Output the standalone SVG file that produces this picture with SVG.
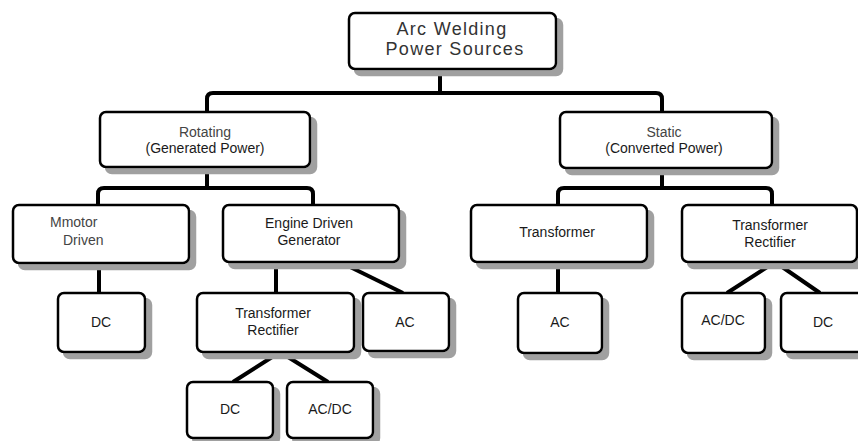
<svg xmlns="http://www.w3.org/2000/svg" width="858" height="441" viewBox="0 0 858 441">
  <defs>
    <style>
      .box { fill: #ffffff; stroke: #000; stroke-width: 2.5; }
      .link { fill: none; stroke: #000; stroke-width: 4; }
      text { font-family: "Liberation Sans", Arial, sans-serif; text-anchor: middle; fill: #1a1a1a; }
      .t14 { font-size: 14px; }
      .light { fill: #444; }
      .title { font-size: 18px; letter-spacing: 1.3px; fill: #333; }
    </style>
    <filter id="drop" x="-10%" y="-10%" width="130%" height="140%">
      <feOffset in="SourceAlpha" dx="6" dy="6" result="off"/>
      <feFlood flood-color="#a0a0a0"/>
      <feComposite in2="off" operator="in" result="shadow"/>
      <feMerge>
        <feMergeNode in="shadow"/>
        <feMergeNode in="SourceGraphic"/>
      </feMerge>
    </filter>
  </defs>

  <!-- connectors -->
  <g id="connectors">
    <path class="link" d="M440 69 V93"/>
    <path class="link" d="M207 112 V99 Q207 93 213 93 H656 Q662 93 662 99 V112"/>
    <path class="link" d="M207 167 V188"/>
    <path class="link" d="M98 205 V194 Q98 188 104 188 H307 Q313 188 313 194 V205"/>
    <path class="link" d="M662 168 V188"/>
    <path class="link" d="M558 205 V194 Q558 188 564 188 H766 Q772 188 772 194 V205"/>
    <path class="link" d="M99 263 V293"/>
    <path class="link" d="M276 262 V293"/>
    <path class="link" d="M340 262 L403 293"/>
    <path class="link" d="M280 352 L233 382 M280 352 L328 382"/>
    <path class="link" d="M558 262 V293"/>
    <path class="link" d="M775 262 L727 293 M775 262 L820 293"/>
  </g>

  <!-- every box carries a gray drop shadow offset 6px down-right -->
  <g id="root">
    <rect class="box" x="349" y="13" width="207" height="56" rx="6" filter="url(#drop)"/>
    <text class="title" x="452" y="35">Arc Welding</text>
    <text class="title" x="455" y="55">Power Sources</text>
  </g>

  <g id="rotating">
    <rect class="box" x="100" y="112" width="210" height="55" rx="6" filter="url(#drop)"/>
    <text class="t14 light" x="205" y="137">Rotating</text>
    <text class="t14" x="205" y="153">(Generated Power)</text>
  </g>

  <g id="static">
    <rect class="box" x="560" y="112" width="212" height="56" rx="6" filter="url(#drop)"/>
    <text class="t14 light" x="664" y="137">Static</text>
    <text class="t14" x="664" y="153">(Converted Power)</text>
  </g>

  <g id="motor-driven">
    <rect class="box" x="13" y="205" width="176" height="58" rx="6" filter="url(#drop)"/>
    <text class="t14 light" x="50" y="227" style="text-anchor:start">Mmotor</text>
    <text class="t14 light" x="63" y="245" style="text-anchor:start">Driven</text>
  </g>

  <g id="engine-driven">
    <rect class="box" x="223" y="205" width="176" height="57" rx="6" filter="url(#drop)"/>
    <text class="t14" x="309" y="228">Engine Driven</text>
    <text class="t14" x="309" y="245">Generator</text>
  </g>

  <g id="transformer">
    <rect class="box" x="471" y="205" width="176" height="57" rx="6" filter="url(#drop)"/>
    <text class="t14" x="557" y="237">Transformer</text>
  </g>

  <g id="transformer-rectifier-static">
    <rect class="box" x="682" y="205" width="175" height="57" rx="6" filter="url(#drop)"/>
    <text class="t14" x="770" y="230">Transformer</text>
    <text class="t14" x="770" y="247">Rectifier</text>
  </g>

  <g id="dc-motor">
    <rect class="box" x="58" y="293" width="87" height="59" rx="6" filter="url(#drop)"/>
    <text class="t14" x="101" y="327">DC</text>
  </g>

  <g id="transformer-rectifier-engine">
    <rect class="box" x="197" y="293" width="157" height="59" rx="6" filter="url(#drop)"/>
    <text class="t14" x="273" y="318">Transformer</text>
    <text class="t14" x="273" y="335">Rectifier</text>
  </g>

  <g id="ac-engine">
    <rect class="box" x="363" y="293" width="86" height="58" rx="6" filter="url(#drop)"/>
    <text class="t14" x="405" y="327">AC</text>
  </g>

  <g id="ac-transformer">
    <rect class="box" x="518" y="293" width="84" height="60" rx="6" filter="url(#drop)"/>
    <text class="t14" x="560" y="327">AC</text>
  </g>

  <g id="acdc-static">
    <rect class="box" x="682" y="293" width="83" height="60" rx="6" filter="url(#drop)"/>
    <text class="t14" x="723" y="325">AC/DC</text>
  </g>

  <g id="dc-static">
    <rect class="box" x="781" y="293" width="90" height="59" rx="6" filter="url(#drop)"/>
    <text class="t14" x="823" y="327">DC</text>
  </g>

  <g id="dc-engine">
    <rect class="box" x="187" y="382" width="86" height="56" rx="6" filter="url(#drop)"/>
    <text class="t14" x="230" y="414">DC</text>
  </g>

  <g id="acdc-engine">
    <rect class="box" x="287" y="382" width="86" height="56" rx="6" filter="url(#drop)"/>
    <text class="t14" x="330" y="414">AC/DC</text>
  </g>
</svg>
